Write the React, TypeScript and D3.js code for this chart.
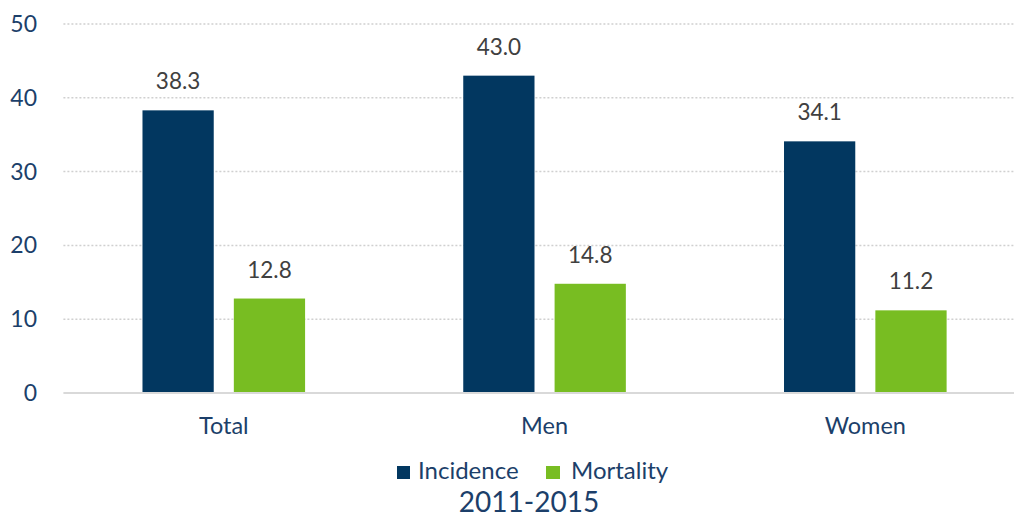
import React from 'react';
import * as d3 from 'd3';

/* data */
const categories = ['Total', 'Men', 'Women'];
const series = ['Incidence', 'Mortality'];
const incidence = [38.3, 43.0, 34.1];
const mortality = [12.8, 14.8, 11.2];
const yTicks = [0, 10, 20, 30, 40, 50];
const period = '2011-2015';

const W = 1014, H = 517;
const M = { t: 24, b: 124, l: 63.4, r: -11.7 };
const colors = { Incidence: '#023760', Mortality: '#78bd22' };
const navy = '#1c3f6a';
const font = 'Lato, "Open Sans", sans-serif';

export default function App() {
  const x0 = d3.scaleBand().domain(categories).range([M.l, W - M.r]).padding(0);
  const x1 = d3.scaleBand().domain(series).range([-81.3, 81.3]).paddingInner(0.22);
  const y = d3.scaleLinear().domain([0, 50]).range([H - M.b, M.t]);
  const rows = categories.map((c, i) => ({ c, Incidence: incidence[i], Mortality: mortality[i] }));

  return (
    <svg width={W} height={H} style={{ position: 'absolute', left: 0, top: 0, background: '#fff' }}>
      {/* grid */}
      {yTicks.map(t => (
        <g key={t}>
          {t > 0 && (
            <line x1={M.l} x2={W} y1={y(t)} y2={y(t)} stroke="#d0d0d0" strokeWidth={1.5} strokeDasharray="2 2" />
          )}
          <text x={37} y={y(t)} dy="0.35em" textAnchor="end" fill={navy} fontFamily={font} fontSize={23}>{t}</text>
        </g>
      ))}

      {/* bars */}
      {rows.map(r => {
        const cx = x0(r.c)! + x0.bandwidth() / 2;
        return (
          <g key={r.c}>
            {series.map(s => {
              const v = (r as any)[s] as number;
              const bx = cx + x1(s)!;
              return (
                <g key={s}>
                  <rect x={bx} y={y(v)} width={x1.bandwidth()} height={y(0) - y(v)} fill={(colors as any)[s]} />
                  <text x={bx + x1.bandwidth() / 2} y={y(v) - 21} textAnchor="middle" fill="#404040" fontFamily={font} fontSize={22.5}>
                    {v.toFixed(1)}
                  </text>
                </g>
              );
            })}
            <text x={cx} y={434} textAnchor="middle" fill={navy} fontFamily={font} fontSize={23.5}>{r.c}</text>
          </g>
        );
      })}

      {/* zero line */}
      <line x1={M.l} x2={W} y1={y(0)} y2={y(0)} stroke="#d9d9d9" strokeWidth={2} />

      {/* legend */}
      <rect x={397} y={466} width={13} height={13} fill={colors.Incidence} />
      <text x={418} y={479} fill={navy} fontFamily={font} fontSize={24}>Incidence</text>
      <rect x={546} y={466} width={14} height={13} fill={colors.Mortality} />
      <text x={571} y={479} fill={navy} fontFamily={font} fontSize={24}>Mortality</text>

      <text x={529} y={512} textAnchor="middle" fill={navy} fontFamily={font} fontSize={28}>{period}</text>
    </svg>
  );
}
